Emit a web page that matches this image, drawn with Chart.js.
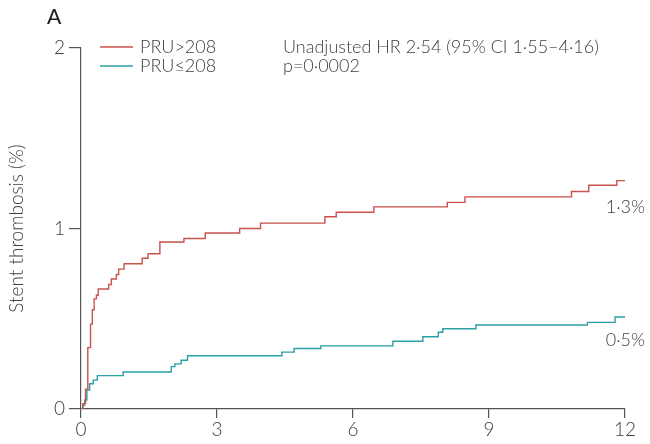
<!DOCTYPE html>
<html lang="en">
<head>
  <meta charset="UTF-8">
  <title>Stent thrombosis</title>
  <script src="https://cdn.jsdelivr.net/npm/chart.js"></script>
  <style>
    html, body { margin: 0; padding: 0; background: #fff; }
    .wrap { width: 650px; height: 444px; position: relative; }
  </style>
</head>
<body>
  <div class="wrap"><canvas id="km"></canvas></div>

  <script>
    // months and cumulative incidence (%)
    const redMonths = [0, 0.04, 0.1, 0.15, 0.21, 0.25, 0.29, 0.34, 0.38, 0.61, 0.67, 0.78, 0.83, 0.95, 1.35, 1.48, 1.74, 2.27, 2.74, 3.5, 3.96, 5.38, 5.63, 6.46, 8.08, 8.47, 10.82, 11.2, 11.82, 12];
    const redValues = [0, 0.03, 0.11, 0.34, 0.47, 0.55, 0.61, 0.63, 0.665, 0.69, 0.72, 0.745, 0.775, 0.805, 0.835, 0.86, 0.925, 0.945, 0.975, 1.0, 1.03, 1.065, 1.09, 1.12, 1.145, 1.175, 1.205, 1.24, 1.265, 1.265];

    const blueMonths = [0, 0.04, 0.08, 0.13, 0.19, 0.27, 0.36, 0.93, 1.99, 2.07, 2.21, 2.35, 4.43, 4.70, 5.29, 6.88, 7.54, 7.88, 7.98, 8.71, 11.17, 11.78, 12];
    const blueValues = [0, 0.02, 0.05, 0.105, 0.14, 0.16, 0.185, 0.205, 0.235, 0.25, 0.27, 0.295, 0.315, 0.335, 0.35, 0.375, 0.4, 0.425, 0.445, 0.465, 0.48, 0.51, 0.51];

    const seriesLabels = ['PRU>208', 'PRU\u2264208'];
    const xTicks = [0, 3, 6, 9, 12];
    const yTicks = [0, 1, 2];
    const statLines = ['Unadjusted HR 2\u00b754 (95% CI 1\u00b755\u20134\u00b716)', 'p=0\u00b70002'];
    const endLabels = ['1\u00b73%', '0\u00b75%'];
    const panelLabel = 'A';
    const yTitle = 'Stent thrombosis (%)';

    const RED = '#c9524b';
    const TEAL = '#2a9fa6';
    const TXT = '#404040';
    const FONT = 'Lato, "Open Sans", sans-serif';

    function pts(xs, ys) {
      return xs.map((x, i) => ({ x: x, y: ys[i] }));
    }

    // legend, stats text and end labels
    const notes = {
      id: 'notes',
      afterDraw(chart) {
        const ctx = chart.ctx;
        ctx.save();
        ctx.fillStyle = '#222';
        ctx.font = '500 21px ' + FONT;
        ctx.textBaseline = 'middle';
        ctx.textAlign = 'left';
        ctx.fillText(panelLabel, 47, 17);

        ctx.font = '300 18px ' + FONT;
        ctx.fillStyle = TXT;
        chart.data.datasets.forEach((ds, i) => {
          const y = 47 + i * 19;
          ctx.strokeStyle = ds.borderColor;
          ctx.lineWidth = 1.3;
          ctx.beginPath();
          ctx.moveTo(100, y);
          ctx.lineTo(133, y);
          ctx.stroke();
          ctx.fillText(ds.label, 140, y);
        });
        statLines.forEach((s, i) => ctx.fillText(s, 283, 47 + i * 19));

        ctx.textAlign = 'right';
        ctx.fillText(endLabels[0], 645, 207);
        ctx.fillText(endLabels[1], 645, 340);
        ctx.restore();
      }
    };

    new Chart(document.getElementById('km'), {
      type: 'line',
      data: {
        datasets: [
          {
            label: seriesLabels[0],
            data: pts(redMonths, redValues),
            borderColor: RED,
            borderWidth: 1.4,
            stepped: true,
            pointRadius: 0,
            fill: false
          },
          {
            label: seriesLabels[1],
            data: pts(blueMonths, blueValues),
            borderColor: TEAL,
            borderWidth: 1.4,
            stepped: true,
            pointRadius: 0,
            fill: false
          }
        ]
      },
      options: {
        responsive: true,
        maintainAspectRatio: false,
        animation: false,
        layout: { padding: { top: 48, right: 25, left: 0, bottom: 0 } },
        plugins: {
          legend: { display: false },
          tooltip: { enabled: false }
        },
        scales: {
          x: {
            type: 'linear',
            min: 0,
            max: 12,
            afterBuildTicks: s => { s.ticks = xTicks.map(v => ({ value: v })); },
            afterFit: s => { s.height = 35; },
            border: { color: '#555', width: 1.2 },
            grid: { drawOnChartArea: false, drawTicks: true, tickLength: 9, color: '#555', lineWidth: 1.2 },
            ticks: { color: TXT, font: { family: FONT, size: 19, weight: 300 }, padding: 0, maxRotation: 0 }
          },
          y: {
            min: 0,
            max: 2,
            afterBuildTicks: s => { s.ticks = yTicks.map(v => ({ value: v })); },
            afterFit: s => { s.width = 81; },
            border: { color: '#555', width: 1.2 },
            grid: { drawOnChartArea: false, drawTicks: true, tickLength: 12, color: '#555', lineWidth: 1.2 },
            ticks: { color: TXT, font: { family: FONT, size: 19, weight: 300 }, padding: 4 },
            title: { display: true, text: yTitle, color: TXT, font: { family: FONT, size: 19, weight: 300 }, padding: { top: 5, bottom: 0 } }
          }
        }
      },
      plugins: [notes]
    });
  </script>
</body>
</html>
